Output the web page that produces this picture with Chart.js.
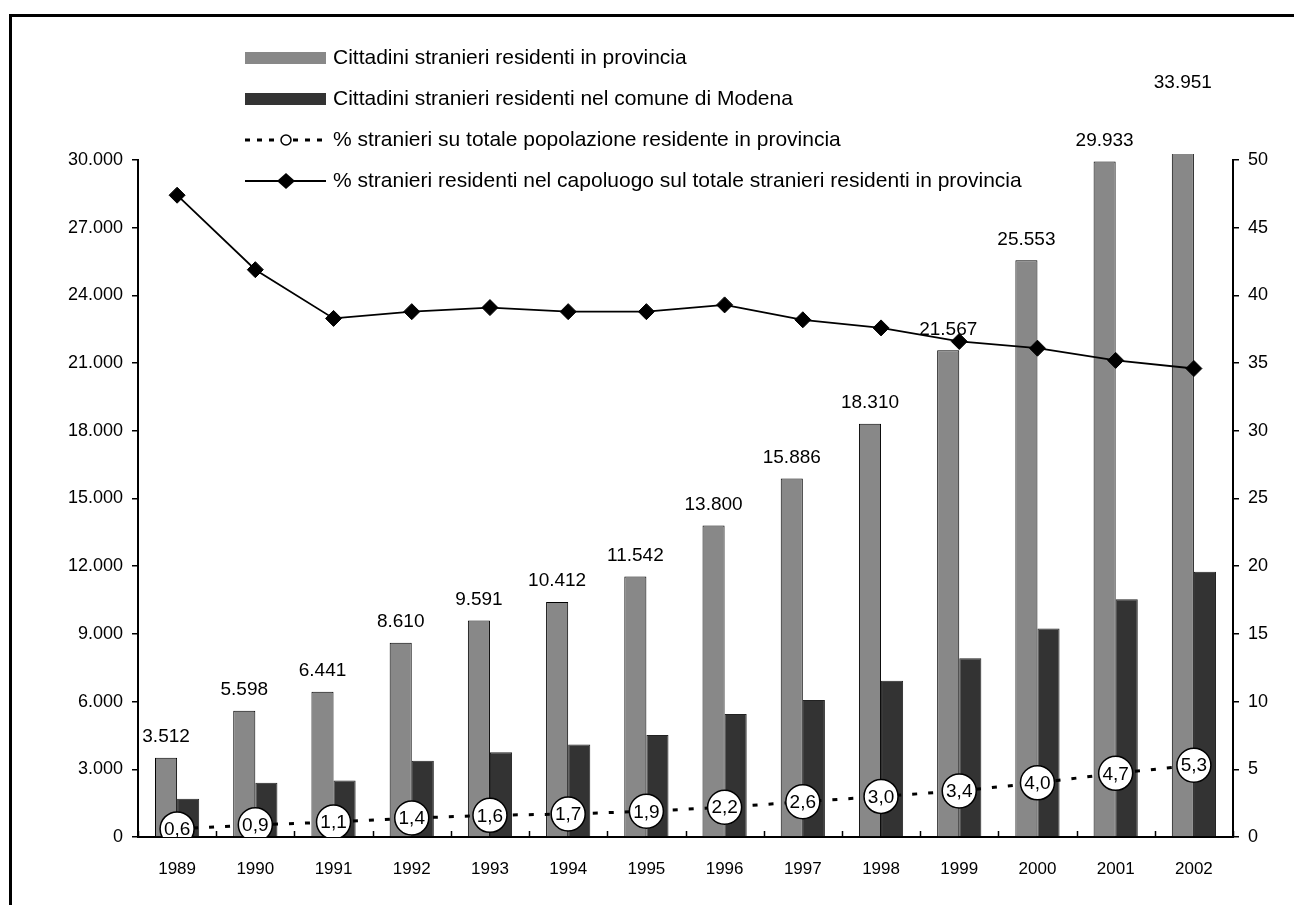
<!DOCTYPE html>
<html>
<head>
<meta charset="utf-8">
<script src="https://cdn.jsdelivr.net/npm/chart.js@4.4.1/dist/chart.umd.min.js"></script>
<style>
html,body{margin:0;padding:0;background:#ffffff;}
#wrap{position:relative;width:1294px;height:905px;}
</style>
</head>
<body>
<div id="wrap"><canvas id="c" width="1294" height="905"></canvas></div>
<script>
// ---- data ----
const years = ['1989','1990','1991','1992','1993','1994','1995','1996','1997','1998','1999','2000','2001','2002'];
const provinceResidents = [3512,5598,6441,8610,9591,10412,11542,13800,15886,18310,21567,25553,29933,33951];
const modenaResidents = [1700,2400,2500,3380,3760,4100,4520,5450,6070,6920,7920,9240,10540,11750];
const pctForeignProvince = [0.6,0.9,1.1,1.4,1.6,1.7,1.9,2.2,2.6,3.0,3.4,4.0,4.7,5.3];
const pctCapoluogo = [47.4,41.9,38.3,38.8,39.1,38.8,38.8,39.3,38.2,37.6,36.6,36.1,35.2,34.6];
const seriesNames = [
  'Cittadini stranieri residenti in provincia',
  'Cittadini stranieri residenti nel comune di Modena',
  '% stranieri su totale popolazione residente in provincia',
  '% stranieri residenti nel capoluogo sul totale stranieri residenti in provincia'
];
const leftAxis = {min: 0, max: 30000, step: 3000};
const rightAxis = {min: 0, max: 50, step: 5};

const FONT = "'Liberation Sans', Arial, sans-serif";
const fmtThousands = v => String(v).replace(/\B(?=(\d{3})+(?!\d))/g, '.');
const fmtDecimal = v => v.toFixed(1).replace('.', ',');

Chart.defaults.font.family = FONT;
Chart.defaults.color = '#000';

const decorPlugin = {
  id: 'decor',
  beforeDraw(chart) {
    const ctx = chart.ctx;
    ctx.save();
    ctx.fillStyle = '#fff';
    ctx.fillRect(0, 0, chart.width, chart.height);
    ctx.strokeStyle = '#000';
    ctx.lineWidth = 3;
    ctx.beginPath();
    ctx.moveTo(9, 15.5); ctx.lineTo(chart.width, 15.5);
    ctx.moveTo(10.5, 14); ctx.lineTo(10.5, chart.height);
    ctx.stroke();
    ctx.restore();
  },
  afterDatasetsDraw(chart) {
    const ctx = chart.ctx;
    const area = chart.chartArea;
    ctx.save();
    ctx.fillStyle = '#000';
    ctx.textAlign = 'center';
    ctx.textBaseline = 'middle';
    // value labels above province bars
    ctx.font = "19px " + FONT;
    const m0 = chart.getDatasetMeta(0);
    m0.data.forEach((bar, i) => {
      const y = Math.max(bar.y - 21, area.top - 77);
      ctx.fillText(fmtThousands(provinceResidents[i]), bar.x, y);
    });
    // labels inside circles
    ctx.font = "19px " + FONT;
    const m2 = chart.getDatasetMeta(2);
    m2.data.forEach((pt, i) => {
      ctx.fillText(fmtDecimal(pctForeignProvince[i]), pt.x, pt.y + 1);
    });
    ctx.restore();
  },
  afterDraw(chart) {
    const ctx = chart.ctx;
    const xs = chart.scales.x;
    const area = chart.chartArea;
    ctx.save();
    // inward x-axis ticks at category boundaries
    ctx.strokeStyle = '#000';
    ctx.lineWidth = 1.5;
    ctx.beginPath();
    const n = years.length;
    for (let i = 0; i <= n; i++) {
      let px;
      if (i === 0) px = xs.left;
      else if (i === n) px = xs.right;
      else px = (xs.getPixelForValue(i - 1) + xs.getPixelForValue(i)) / 2;
      px = Math.round(px) + 0.5;
      ctx.moveTo(px, area.bottom);
      ctx.lineTo(px, area.bottom - 6);
    }
    ctx.stroke();

    // legend
    const rows = [58, 99, 140, 181];
    const x0 = 245, x1 = 326, tx = 333, mx = 286;
    ctx.font = "21px " + FONT;
    ctx.textAlign = 'left';
    ctx.textBaseline = 'middle';
    ctx.fillStyle = '#888888';
    ctx.fillRect(x0, rows[0] - 6, x1 - x0, 12);
    ctx.fillStyle = '#333333';
    ctx.fillRect(x0, rows[1] - 6, x1 - x0, 12);
    // dotted
    ctx.strokeStyle = '#000';
    ctx.lineWidth = 3;
    ctx.setLineDash([5, 7]);
    ctx.beginPath();
    ctx.moveTo(x0, rows[2]); ctx.lineTo(x1, rows[2]);
    ctx.stroke();
    ctx.setLineDash([]);
    ctx.beginPath();
    ctx.arc(mx, rows[2], 5, 0, Math.PI * 2);
    ctx.fillStyle = '#fff';
    ctx.fill();
    ctx.lineWidth = 1.5;
    ctx.stroke();
    // solid with diamond
    ctx.lineWidth = 2;
    ctx.beginPath();
    ctx.moveTo(x0, rows[3]); ctx.lineTo(x1, rows[3]);
    ctx.stroke();
    ctx.fillStyle = '#000';
    ctx.beginPath();
    ctx.moveTo(mx, rows[3] - 8); ctx.lineTo(mx + 9, rows[3]);
    ctx.lineTo(mx, rows[3] + 8); ctx.lineTo(mx - 9, rows[3]);
    ctx.closePath();
    ctx.fill();
    ctx.fillStyle = '#000';
    seriesNames.forEach((s, i) => ctx.fillText(s, tx, rows[i]));
    ctx.restore();
  }
};

new Chart(document.getElementById('c'), {
  type: 'bar',
  data: {
    labels: years,
    datasets: [
      {
        type: 'bar', label: seriesNames[0], data: provinceResidents, yAxisID: 'y',
        backgroundColor: '#888888', borderColor: '#000', borderWidth: 1,
        barPercentage: 1, categoryPercentage: 0.565, order: 3,
        clip: {left: 0, top: 6, right: 0, bottom: 0}
      },
      {
        type: 'bar', label: seriesNames[1], data: modenaResidents, yAxisID: 'y',
        backgroundColor: '#333333', borderColor: '#222', borderWidth: 1,
        barPercentage: 1, categoryPercentage: 0.565, order: 3
      },
      {
        type: 'line', label: seriesNames[2], data: pctForeignProvince, yAxisID: 'y2',
        borderColor: '#000', borderWidth: 3, borderDash: [5, 11], fill: false, tension: 0,
        pointStyle: 'circle', pointRadius: 17, pointBackgroundColor: '#fff',
        pointBorderColor: '#000', pointBorderWidth: 1.5, order: 1
      },
      {
        type: 'line', label: seriesNames[3], data: pctCapoluogo, yAxisID: 'y2',
        borderColor: '#000', borderWidth: 1.8, fill: false, tension: 0,
        pointStyle: 'rectRot', pointRadius: 8, pointBackgroundColor: '#000',
        pointBorderColor: '#000', pointBorderWidth: 1, order: 2
      }
    ]
  },
  options: {
    responsive: false,
    animation: false,
    layout: {padding: {top: 160, left: 0, right: 0, bottom: 0}},
    plugins: {legend: {display: false}, tooltip: {enabled: false}},
    scales: {
      x: {
        type: 'category', offset: true,
        grid: {display: false},
        border: {display: true, color: '#000', width: 2},
        ticks: {font: {size: 17}, color: '#000', padding: 14, maxRotation: 0, autoSkip: false},
        afterFit(s) { s.height = 68; }
      },
      y: {
        position: 'left', min: leftAxis.min, max: leftAxis.max,
        ticks: {stepSize: leftAxis.step, font: {size: 18}, color: '#000', padding: 9,
                callback: v => fmtThousands(v)},
        grid: {drawOnChartArea: false, drawTicks: true, tickLength: 6, color: '#000', lineWidth: 1.5},
        border: {display: true, color: '#000', width: 2},
        afterFit(s) { s.width = 138; }
      },
      y2: {
        position: 'right', min: rightAxis.min, max: rightAxis.max,
        ticks: {stepSize: rightAxis.step, font: {size: 18}, color: '#000', padding: 9},
        grid: {drawOnChartArea: false, drawTicks: true, tickLength: 6, color: '#000', lineWidth: 1.5},
        border: {display: true, color: '#000', width: 2},
        afterFit(s) { s.width = 61; }
      }
    }
  },
  plugins: [decorPlugin]
});
</script>
</body>
</html>
